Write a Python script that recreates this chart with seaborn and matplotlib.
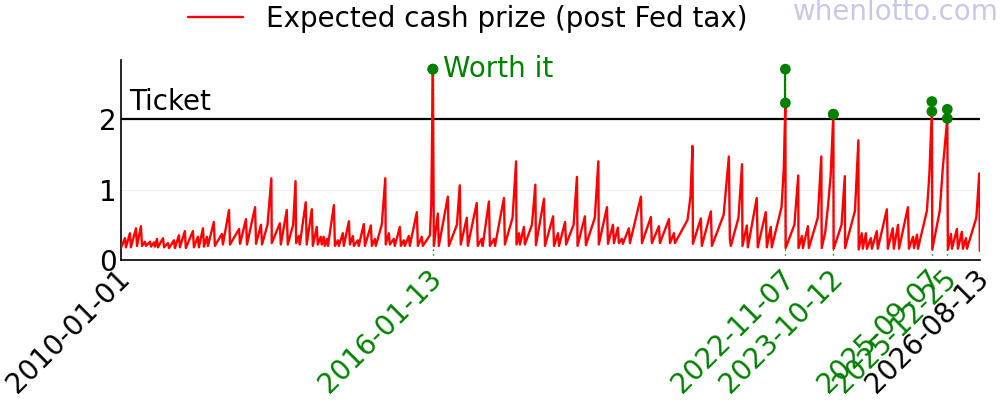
import matplotlib
matplotlib.use("Agg")
import matplotlib.pyplot as plt
import matplotlib.transforms as mtransforms
import seaborn as sns
import pandas as pd

# ---- data ----
draw_dates = [
    "2010-01-01", "2010-01-29", "2010-02-05", "2010-03-05", "2010-03-12", "2010-04-17", "2010-04-24",
    "2010-05-22", "2010-05-29", "2010-06-19", "2010-06-26", "2010-07-25", "2010-08-01", "2010-08-22",
    "2010-08-29", "2010-09-12", "2010-09-19", "2010-10-25", "2010-11-01", "2010-11-29", "2010-12-06",
    "2011-01-10", "2011-01-17", "2011-02-14", "2011-02-21", "2011-03-28", "2011-04-04", "2011-05-24",
    "2011-05-31", "2011-06-28", "2011-07-05", "2011-08-03", "2011-08-10", "2011-08-31", "2011-09-07",
    "2011-10-19", "2011-10-26", "2011-12-15", "2011-12-22",
    "2012-02-03", "2012-02-10", "2012-04-14", "2012-04-21", "2012-06-02", "2012-06-09", "2012-08-05",
    "2012-08-12", "2012-09-16", "2012-09-23", "2012-11-01", "2012-11-28", "2012-12-01",
    "2013-01-27", "2013-02-03", "2013-03-17", "2013-03-24", "2013-05-01", "2013-05-18", "2013-05-22",
    "2013-06-10", "2013-06-17", "2013-07-29", "2013-08-05", "2013-09-10", "2013-09-17", "2013-10-15",
    "2013-10-22", "2013-11-12", "2013-11-19", "2013-12-03", "2013-12-10", "2013-12-25",
    "2014-01-02", "2014-02-13", "2014-02-20", "2014-03-13", "2014-03-20", "2014-04-17", "2014-04-24",
    "2014-05-30", "2014-06-06", "2014-06-27", "2014-07-04", "2014-08-01", "2014-08-08", "2014-09-12",
    "2014-09-20", "2014-11-01", "2014-11-08", "2014-11-29", "2014-12-06",
    "2015-01-17", "2015-02-11", "2015-02-14", "2015-03-08", "2015-03-15", "2015-04-12", "2015-04-19",
    "2015-05-25", "2015-06-01", "2015-06-22", "2015-06-29", "2015-07-27", "2015-08-03", "2015-09-22",
    "2015-09-29", "2015-10-27", "2015-11-03", "2015-12-23", "2016-01-02", "2016-01-13",
    "2016-01-20", "2016-02-17", "2016-02-24", "2016-04-28", "2016-05-05", "2016-07-01", "2016-07-21",
    "2016-07-28", "2016-09-09", "2016-09-16", "2016-11-18", "2016-11-25", "2016-12-23", "2016-12-30",
    "2017-02-12", "2017-02-19", "2017-03-20", "2017-03-27", "2017-05-29", "2017-06-05", "2017-07-29",
    "2017-08-23", "2017-08-26", "2017-09-12", "2017-09-19", "2017-10-17", "2017-10-24", "2017-12-13",
    "2018-01-06", "2018-01-10", "2018-03-08", "2018-03-15", "2018-05-11", "2018-05-18", "2018-06-15",
    "2018-06-22", "2018-08-04", "2018-08-11", "2018-10-03", "2018-10-27", "2018-10-31", "2018-12-22",
    "2018-12-29", "2019-03-02", "2019-03-27", "2019-03-30", "2019-05-27", "2019-06-03", "2019-07-08",
    "2019-07-15", "2019-08-12", "2019-08-19", "2019-09-09", "2019-09-16", "2019-10-29", "2019-11-05",
    "2020-01-22", "2020-01-29", "2020-04-01", "2020-04-08", "2020-05-28", "2020-06-04", "2020-08-07",
    "2020-08-14", "2020-09-11", "2020-09-18", "2020-12-16", "2021-01-06", "2021-01-20", "2021-01-23",
    "2021-03-20", "2021-03-27", "2021-05-30", "2021-06-06", "2021-08-28", "2021-10-04", "2021-10-11",
    "2021-10-18", "2021-12-11", "2022-01-05", "2022-01-08", "2022-02-08", "2022-02-15", "2022-04-19",
    "2022-04-26", "2022-06-22", "2022-06-29", "2022-07-27", "2022-08-03", "2022-09-05", "2022-10-11",
    "2022-10-27", "2022-11-07", "2022-11-09", "2023-01-10", "2023-02-06", "2023-02-08", "2023-03-04",
    "2023-03-11", "2023-04-15", "2023-04-22", "2023-06-24", "2023-07-19", "2023-07-22", "2023-08-16",
    "2023-09-06", "2023-09-23", "2023-10-12", "2023-10-14", "2023-12-09", "2024-01-01", "2024-01-03",
    "2024-03-13", "2024-04-06", "2024-04-08", "2024-04-30", "2024-05-07", "2024-05-29", "2024-06-05",
    "2024-07-03", "2024-07-10", "2024-08-14", "2024-08-21", "2024-10-24", "2024-10-31", "2024-12-05",
    "2024-12-12", "2025-01-11", "2025-01-18", "2025-03-22", "2025-03-29", "2025-04-27", "2025-05-04",
    "2025-05-25", "2025-06-01", "2025-08-03", "2025-08-20", "2025-09-07", "2025-09-10", "2025-11-02",
    "2025-11-23", "2025-12-25", "2025-12-29", "2026-01-20", "2026-01-27", "2026-03-03", "2026-03-10",
    "2026-04-07", "2026-04-14", "2026-05-06", "2026-05-13", "2026-07-18", "2026-08-08", "2026-08-12",
]
cash_value = [
    0.17, 0.31, 0.18, 0.38, 0.18, 0.45, 0.20,
    0.48, 0.20, 0.26, 0.20, 0.26, 0.19, 0.25,
    0.19, 0.30, 0.18, 0.31, 0.18, 0.24, 0.17,
    0.28, 0.17, 0.35, 0.18, 0.41, 0.17, 0.41,
    0.18, 0.33, 0.18, 0.45, 0.19, 0.33, 0.20,
    0.54, 0.20, 0.37, 0.22,
    0.71, 0.22, 0.44, 0.23, 0.58, 0.22, 0.75,
    0.23, 0.50, 0.22, 0.50, 1.16, 0.24,
    0.52, 0.22, 0.71, 0.22, 0.50, 1.12, 0.24,
    0.34, 0.22, 0.82, 0.22, 0.72, 0.20, 0.47,
    0.22, 0.33, 0.22, 0.33, 0.20, 0.30,
    0.20, 0.78, 0.20, 0.28, 0.20, 0.38, 0.20,
    0.55, 0.22, 0.34, 0.20, 0.28, 0.20, 0.51,
    0.20, 0.49, 0.20, 0.30, 0.20,
    0.50, 1.16, 0.22, 0.38, 0.22, 0.30, 0.20,
    0.47, 0.20, 0.28, 0.20, 0.34, 0.20, 0.68,
    0.20, 0.33, 0.20, 0.35, 0.80, 2.71,
    0.20, 0.66, 0.20, 0.90, 0.20, 0.50, 1.06,
    0.22, 0.60, 0.20, 0.81, 0.20, 0.30, 0.20,
    0.83, 0.20, 0.30, 0.20, 0.88, 0.22, 0.60,
    1.40, 0.22, 0.38, 0.22, 0.47, 0.22, 0.50,
    1.07, 0.21, 0.87, 0.20, 0.62, 0.20, 0.38,
    0.20, 0.54, 0.22, 0.50, 1.18, 0.20, 0.62,
    0.21, 0.60, 1.40, 0.22, 0.75, 0.23, 0.50,
    0.24, 0.46, 0.24, 0.30, 0.23, 0.45, 0.24,
    0.90, 0.24, 0.61, 0.24, 0.48, 0.24, 0.58,
    0.24, 0.38, 0.24, 0.57, 0.90, 1.62, 0.23,
    0.59, 0.20, 0.69, 0.20, 0.64, 1.47, 0.30,
    0.20, 0.60, 1.36, 0.20, 0.49, 0.18, 0.88,
    0.18, 0.68, 0.18, 0.47, 0.18, 0.45, 0.75,
    1.30, 2.22, 0.17, 0.50, 1.20, 0.17, 0.34,
    0.17, 0.48, 0.17, 0.60, 1.47, 0.17, 0.40,
    0.80, 1.20, 2.07, 0.16, 0.50, 1.19, 0.17,
    0.70, 1.70, 0.15, 0.38, 0.16, 0.38, 0.16,
    0.31, 0.16, 0.41, 0.16, 0.72, 0.16, 0.45,
    0.16, 0.50, 0.16, 0.75, 0.16, 0.33, 0.17,
    0.36, 0.16, 0.70, 1.20, 2.11, 0.15, 0.70,
    1.30, 2.01, 0.15, 0.37, 0.16, 0.44, 0.16,
    0.40, 0.16, 0.31, 0.16, 0.60, 1.23, 0.13,
]

worth_dates = ["2016-01-13", "2022-11-07", "2023-10-12", "2025-09-07", "2025-12-25"]
worth_low = [2.71, 2.23, 2.07, 2.11, 2.01]
worth_high = [2.71, 2.71, 2.07, 2.25, 2.14]

tick_dates = ["2010-01-01", "2016-01-13", "2022-11-07", "2023-10-12",
              "2025-09-07", "2025-12-25", "2026-08-13"]
tick_colors = ["black", "green", "green", "green", "green", "green", "black"]

ticket_price = 2
legend_label = "Expected cash prize (post Fed tax)"

# ---- build frames ----
df = pd.DataFrame({"date": pd.to_datetime(draw_dates), "value": cash_value})
wd = pd.to_datetime(worth_dates)
pts = pd.DataFrame({"date": list(wd) + list(wd), "value": worth_low + worth_high})

sns.set_style("white")
plt.rcParams["font.family"] = ["DejaVu Sans"]
plt.rcParams["text.color"] = "black"
plt.rcParams["xtick.color"] = "black"
plt.rcParams["ytick.color"] = "black"
plt.rcParams["axes.labelcolor"] = "black"

fig = plt.figure(figsize=(10, 4), dpi=100)
ax = fig.add_axes([0.121, 0.35, 0.859, 0.50])

ax.axhline(1, color="#eeeeee", lw=0.8, zorder=0)
ax.vlines(wd, 0, worth_high, colors="green", linestyles=(0, (1, 2.5)), lw=1.0, zorder=1)
sns.lineplot(data=df, x="date", y="value", color="red", lw=1.7, ax=ax,
             zorder=3, legend=False)
ax.axhline(ticket_price, color="black", lw=1.6, zorder=2)
for d, lo, hi in zip(wd, worth_low, worth_high):
    ax.plot([d, d], [lo, hi], color="green", lw=1.6, zorder=4)
sns.scatterplot(data=pts, x="date", y="value", color="green", s=60, edgecolor="none",
                ax=ax, zorder=5, legend=False)

ax.set_xlim(pd.Timestamp(tick_dates[0]), pd.Timestamp(tick_dates[-1]))
ax.set_ylim(0, 2.84)
ax.set_yticks([0, 1, 2])
ax.set_xticks(pd.to_datetime(tick_dates))
ax.set_xticklabels(tick_dates, rotation=45, ha="right", rotation_mode="anchor")
ax.tick_params(axis="both", direction="in", length=4, width=0.8, labelsize=20, pad=3)
ax.tick_params(axis="x", length=0)
ax.set_xlabel("")
ax.set_ylabel("")
for s in ["top", "right"]:
    ax.spines[s].set_visible(False)
for s in ["left", "bottom"]:
    ax.spines[s].set_color("black")
    ax.spines[s].set_linewidth(1.2)

ax.text(0.01, ticket_price + 0.05, "Ticket", transform=ax.get_yaxis_transform(),
        fontsize=20, color="black", va="bottom", ha="left")
ax.annotate("Worth it", xy=(wd[0], 2.71), xytext=(7, 0), textcoords="offset points",
            fontsize=20, color="green", va="center", ha="left")

handles = [plt.Line2D([0], [0], color="red", lw=1.7)]
fig.legend(handles, [legend_label], loc="center", bbox_to_anchor=(0.4675, 1 - 19 / 400),
           frameon=False, fontsize=20, handlelength=2.0, handletextpad=0.8)
fig.text(0.999, 1 - 12 / 400, "whenlotto.com", ha="right", va="center",
         fontsize=20, color="#c8c8e6")

# shift rotated date labels slightly left (after tick_params so it is kept)
shift = mtransforms.ScaledTranslation(-5 / 100, 0, fig.dpi_scale_trans)
for lbl, c in zip(ax.get_xticklabels(), tick_colors):
    lbl.set_color(c)
    lbl.set_transform(lbl.get_transform() + shift)

fig.savefig("out.png", dpi=100)
